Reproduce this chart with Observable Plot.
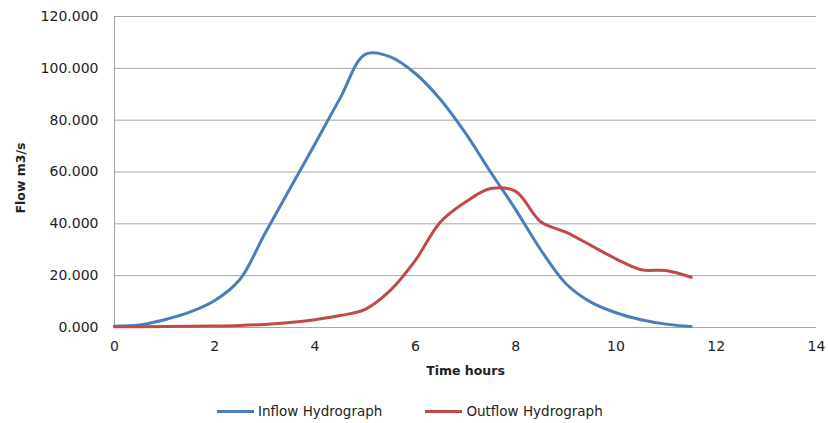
<!DOCTYPE html>
<html><head><meta charset="utf-8">
<script src="https://cdn.jsdelivr.net/npm/d3@7"></script>
<script src="https://cdn.jsdelivr.net/npm/@observablehq/plot@0.6"></script>
<style>
body{margin:0;background:#fff;font-family:"DejaVu Sans",sans-serif;}
#legend{display:flex;gap:43px;margin-left:217px;margin-top:11px;font-size:13.5px;color:#222;align-items:center;}
.item{display:flex;align-items:center;gap:4px;}
.sw{width:37px;height:3px;display:inline-block;}
</style></head><body>
<div id="chart"></div>
<div id="legend"></div>
<script>
const times = [0,0.5,1,1.5,2,2.5,3,3.5,4,4.5,5,5.5,6,6.5,7,7.5,8,8.5,9,9.5,10,10.5,11,11.5];
const inflow = [0.5,1.0,3.0,5.9,10.4,18.5,36.3,53.6,70.9,88.5,105.4,104.4,98,88,75,60,45.5,30,17,9.8,5.7,3.0,1.3,0.4];
const outflow = [0.3,0.3,0.4,0.5,0.6,0.8,1.2,1.9,3.0,4.6,7.0,14.3,25.9,40.7,48.4,53.6,52.5,40.8,36.8,31.7,26.5,22.3,22.0,19.4];
const seriesNames = ["Inflow Hydrograph","Outflow Hydrograph"];
const colors = ["#4a7ebb","#be4b48"];
const yTicks = [0,20,40,60,80,100,120];
const xTicks = [0,2,4,6,8,10,12,14];

const data = [];
times.forEach((t,i)=>{
  data.push({t, v: inflow[i], s: seriesNames[0]});
  data.push({t, v: outflow[i], s: seriesNames[1]});
});

const chart = Plot.plot({
  width: 828, height: 392,
  marginTop: 16, marginBottom: 65, marginLeft: 114, marginRight: 12,
  style: {fontFamily: "'DejaVu Sans', sans-serif", fontSize: "13px", color: "#222"},
  x: {domain: [0,14], ticks: xTicks, label: null},
  y: {domain: [0,120], ticks: yTicks, label: null},
  color: {domain: seriesNames, range: colors},
  marks: [
    Plot.gridY(yTicks.filter(d=>d>0), {stroke: "#a6a6a6", strokeOpacity: 1, strokeWidth: 1}),
    Plot.ruleX([0], {stroke: "#a6a6a6"}),
    Plot.ruleY([0], {stroke: "#a6a6a6"}),
    Plot.axisX({ticks: xTicks, tickSize: 0, tickPadding: 14, fontSize: 14, label: null}),
    Plot.axisY({ticks: yTicks, tickSize: 0, tickPadding: 16, fontSize: 14, tickFormat: d => d.toFixed(3), label: null}),
    Plot.line(data, {x: "t", y: "v", z: "s", stroke: "s", strokeWidth: 3, curve: "catmull-rom"}),
    Plot.text(["Time hours"], {frameAnchor: "bottom", dy: 47, fontWeight: "bold", fontSize: 12.5}),
    Plot.text(["Flow m3/s"], {frameAnchor: "left", dx: -94, dy: 6, rotate: -90, textAnchor: "middle", fontWeight: "bold", fontSize: 12.5})
  ]
});
document.getElementById("chart").appendChild(chart);

const leg = document.getElementById("legend");
seriesNames.forEach((n,i)=>{
  const it = document.createElement("div"); it.className="item";
  const sw = document.createElement("span"); sw.className="sw"; sw.style.background=colors[i];
  const tx = document.createElement("span"); tx.textContent=n;
  it.appendChild(sw); it.appendChild(tx); leg.appendChild(it);
});
</script>
</body></html>
